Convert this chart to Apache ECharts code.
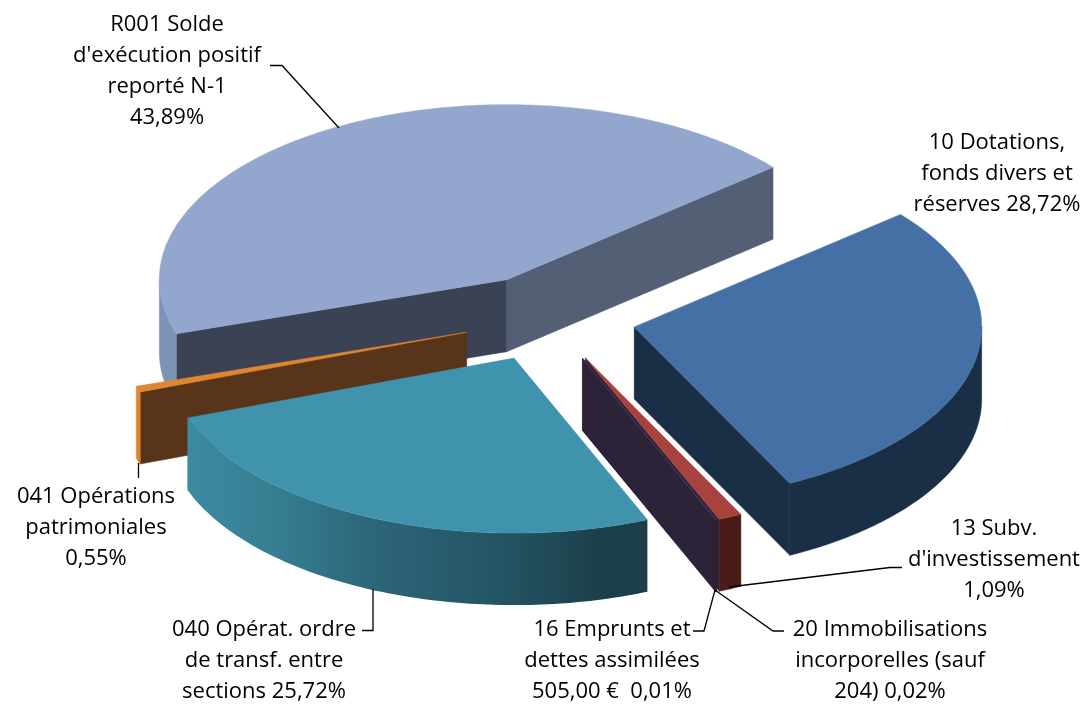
<!DOCTYPE html>
<html><head><meta charset="utf-8">
<style>html,body{margin:0;padding:0;background:#fff}#c{width:1088px;height:704px}</style>
<script src="https://cdn.jsdelivr.net/npm/echarts@6/dist/echarts.min.js"></script>
</head><body><div id="c"></div>
<script>
// data, in pie (clockwise) order
const categories = ["R001 Solde d'exécution positif reporté N-1", "10 Dotations, fonds divers et réserves", "13 Subv. d'investissement", "16 Emprunts et dettes assimilées", "20 Immobilisations incorporelles (sauf 204)", "040 Opérat. ordre de transf. entre sections", "041 Opérations patrimoniales"];
const percents = [43.89, 28.72, 1.09, 0.01, 0.02, 25.72, 0.55];
const labelTexts = [
  "R001 Solde\nd'exécution positif\nreporté N-1\n43,89%",
  "10 Dotations,\nfonds divers et\nréserves 28,72%",
  "13 Subv.\nd'investissement\n1,09%",
  "16 Emprunts et\ndettes assimilées\n505,00 €  0,01%",
  "20 Immobilisations\nincorporelles (sauf\n204) 0,02%",
  "040 Opérat. ordre\nde transf. entre\nsections 25,72%",
  "041 Opérations\npatrimoniales\n0,55%"
];
// styling
const topColors   = ['#92a6ce', '#4570a6', '#a8423c', '#4b3a63', '#4b3a63', '#3f93ad', '#e08530'];
const startWall   = ['#3b4254', '#1a2e46', '#2d2338', '#2d2338', '#2d2338', '#1b3f49', '#57341a'];
const endWall     = ['#525f74', '#1a2e46', '#2d2338', '#2d2338', '#2d2338', '#1b3f49', '#57341a'];
const outerWall   = ['#7c92b6', '#1a2e46', '#4a1c18', '#2d2338', '#4a1c18',
  {type:'linear',x:0,y:0,x2:1,y2:0,colorStops:[{offset:0,color:'#3b8ba1'},{offset:0.18,color:'#377f93'},{offset:0.4,color:'#2c6679'},{offset:0.7,color:'#235362'},{offset:0.9,color:'#1b3f49'},{offset:1,color:'#1b3e47'}]},
  '#e08530'];
const drawOrder = [0, 1, 6, 5, 2, 3, 4];
// layout
const CX = 549, CY = 318, RX = 347.5, RY = 175, DEPTH = 72, EXPLODE = 87, START = -108;
const FONT = '"Open Sans"';
const FS = 22, LH = 31;
const labelPos = [[167,71],[997,174],[994,560],[612,661],[890,661],[264,661],[96,528]];
const leaders = [
  [[270,65.5],[282,65.5],[339,128]],
  [[729,587],[890,567.5],[902,567.5]],
  [[715,590],[704,631],[693,631]],
  [[715,590],[773,631],[784,631]],
  [[373,589],[373,630.5],[362,630.5]],
  [[138.5,463],[138.5,478]]
];

const total = percents.reduce((a, b) => a + b, 0);
const rad = d => d * Math.PI / 180;
const spans = [];
let acc = START;
percents.forEach(v => { const s = acc; acc += v / total * 360; spans.push([s, acc]); });

function rimPoint(c, deg, dy) {
  return [c[0] + RX * Math.sin(rad(deg)), c[1] - RY * Math.cos(rad(deg)) + (dy || 0)];
}
function arc(c, a, b, dy) {
  const pts = [], n = Math.max(2, Math.ceil(Math.abs(b - a)) + 1);
  for (let k = 0; k < n; k++) pts.push(rimPoint(c, a + (b - a) * k / (n - 1), dy));
  return pts;
}
function poly(points, fill) {
  return { type: 'polygon', silent: true, shape: { points }, style: { fill, stroke: typeof fill === 'string' ? fill : null, lineWidth: 0.5 } };
}
function wall(c, deg, fill) {
  const r = rimPoint(c, deg);
  return poly([c, r, [r[0], r[1] + DEPTH], [c[0], c[1] + DEPTH]], fill);
}
function renderSlice(params) {
  const i = drawOrder[params.dataIndex];
  const [a, b] = spans[i];
  const mid = rad((a + b) / 2);
  const c = [CX + EXPLODE * Math.sin(mid), CY - EXPLODE * (RY / RX) * Math.cos(mid)];
  const children = [];
  if (Math.sin(rad(a)) < 0) children.push(wall(c, a, startWall[i]));
  if (Math.sin(rad(b)) > 0) children.push(wall(c, b, endWall[i]));
  // outer rim: only the front half of the ellipse faces the viewer
  for (const off of [-360, 0, 360]) {
    const lo = Math.max(a + off, 90), hi = Math.min(b + off, 270);
    if (hi > lo) {
      const topArc = arc(c, lo, hi, 0), botArc = arc(c, hi, lo, DEPTH);
      children.push(poly(topArc.concat(botArc), outerWall[i]));
    }
  }
  children.push(poly([c].concat(arc(c, a, b, 0)), topColors[i]));
  return { type: 'group', children };
}

const graphics = [];
leaders.forEach(points => graphics.push({
  type: 'polyline', silent: true, z: 20, shape: { points },
  style: { stroke: '#000', lineWidth: 1.3, fill: null }
}));
labelTexts.forEach((t, i) => graphics.push({
  type: 'text', silent: true, z: 21, x: labelPos[i][0], y: labelPos[i][1],
  style: { text: t, fill: '#000', font: FS + 'px ' + FONT, align: 'center', verticalAlign: 'middle', lineHeight: LH }
}));

const chart = echarts.init(document.getElementById('c'), null, { width: 1088, height: 704 });
chart.setOption({
  backgroundColor: '#fff',
  animation: false,
  series: [{
    type: 'custom',
    coordinateSystem: 'none',
    silent: true,
    renderItem: renderSlice,
    data: drawOrder.map(i => ({ name: categories[i], value: [percents[i]] }))
  }],
  graphic: graphics
});
</script></body></html>
